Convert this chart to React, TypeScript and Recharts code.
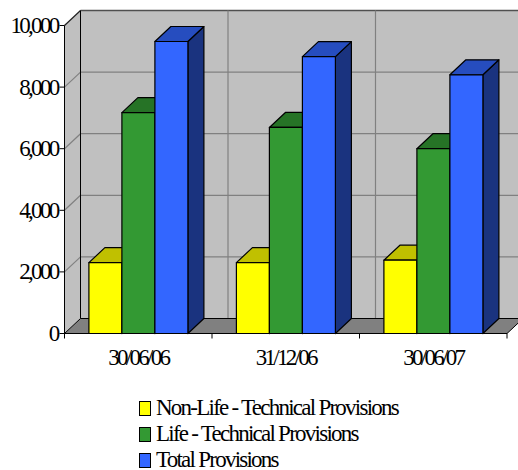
import React from 'react';
import { BarChart, Bar, XAxis, YAxis, Legend, usePlotArea } from 'recharts';

const periods = ['30/06/06', '31/12/06', '30/06/07'];
const nonLife = [2300, 2300, 2380];
const life = [7170, 6690, 6000];
const total = [9480, 8990, 8400];
const yTicks = [0, 2000, 4000, 6000, 8000, 10000];
const yMax = 10000;

const data = periods.map((period, i) => ({
  period,
  nonLife: nonLife[i],
  life: life[i],
  total: total[i],
}));

const seriesInfo = [
  { key: 'nonLife', name: 'Non-Life - Technical Provisions', front: '#ffff00', top: '#c0c000', side: '#9a9a00' },
  { key: 'life', name: 'Life - Technical Provisions', front: '#339933', top: '#267326', side: '#1c5a1c' },
  { key: 'total', name: 'Total Provisions', front: '#3366ff', top: '#264dbf', side: '#1a337f' },
];

// 3D offset of the back wall relative to the front plane
const DEPTH_X = 16;
const DEPTH_Y = 15;
const FONT = '"Liberation Serif", serif';

const Walls = () => {
  const plot = usePlotArea();
  if (!plot) return null;
  const { x, y, width, height } = plot;
  const bottom = y + height;
  const backLeft = x + DEPTH_X;
  const backRight = x + width + DEPTH_X;
  const backTop = y - DEPTH_Y;
  const backBottom = bottom - DEPTH_Y;
  const bandEdges = periods.map((_, i) => x + (i * width) / periods.length);
  bandEdges.push(x + width);

  return (
    <g>
      <rect x={backLeft} y={backTop} width={width} height={height} fill="#c0c0c0" />
      <polygon
        points={`${x},${bottom} ${x},${y} ${backLeft},${backTop} ${backLeft},${backBottom}`}
        fill="#c0c0c0"
      />
      {yTicks.slice(1).map((t) => {
        const ty = bottom - (t / yMax) * height;
        const isTop = t === yMax;
        return (
          <g key={t}>
            <line x1={backLeft} x2={backRight} y1={ty - DEPTH_Y} y2={ty - DEPTH_Y} stroke={isTop ? '#505050' : '#808080'} strokeWidth={isTop ? 1.5 : 1.2} />
            <line x1={x} x2={backLeft} y1={ty} y2={ty - DEPTH_Y} stroke={isTop ? '#202020' : '#808080'} strokeWidth={1.2} />
          </g>
        );
      })}
      {bandEdges.slice(1, -1).map((ex) => (
        <line key={ex} x1={ex + DEPTH_X} x2={ex + DEPTH_X} y1={backTop} y2={backBottom} stroke="#808080" strokeWidth={1.2} />
      ))}
      <polygon
        points={`${x},${bottom} ${backLeft},${backBottom} ${backRight},${backBottom} ${x + width},${bottom}`}
        fill="#808080"
        stroke="#000"
        strokeWidth={1}
      />
      <line x1={backLeft} x2={backLeft} y1={backTop} y2={backBottom} stroke="#000" strokeWidth={1} />
      {bandEdges.map((ex) => (
        <line key={ex} x1={ex} x2={ex} y1={bottom} y2={bottom + 5} stroke="#000" strokeWidth={1} />
      ))}
    </g>
  );
};

const makeBar3D = (front: string, top: string, side: string) => (props: any) => {
  const { x, y, width, height } = props;
  const right = x + width;
  const bottom = y + height;
  return (
    <g stroke="#000" strokeWidth={1.2} strokeLinejoin="round">
      <polygon
        points={`${right},${y} ${right + DEPTH_X},${y - DEPTH_Y} ${right + DEPTH_X},${bottom - DEPTH_Y} ${right},${bottom}`}
        fill={side}
      />
      <polygon
        points={`${x},${y} ${x + DEPTH_X},${y - DEPTH_Y} ${right + DEPTH_X},${y - DEPTH_Y} ${right},${y}`}
        fill={top}
      />
      <rect x={x} y={y} width={width} height={height} fill={front} />
    </g>
  );
};

const YTick = ({ x, y, payload }: any) => (
  <text x={x - 2} y={y} dy="0.33em" textAnchor="end" fontFamily={FONT} fontSize={23} fill="#000" style={{ letterSpacing: -2.7 }}>
    {payload.value.toLocaleString('en-US')}
  </text>
);

const XTick = ({ x, y, payload }: any) => (
  <text x={x} y={y} dy="0.68em" textAnchor="middle" fontFamily={FONT} fontSize={23} fill="#000" style={{ letterSpacing: -2.7 }}>
    {payload.value}
  </text>
);

const LegendBox = () => (
  <div style={{ fontFamily: FONT, fontSize: 23, letterSpacing: -1.75, color: '#000', paddingLeft: 139 }}>
    {seriesInfo.map((s) => (
      <div key={s.key} style={{ display: 'flex', alignItems: 'center', height: 20, lineHeight: '20px', marginBottom: 6 }}>
        <span style={{ width: 10, height: 13, border: '1px solid #000', background: s.front, marginRight: 5, flex: 'none' }} />
        <span>{s.name}</span>
      </div>
    ))}
  </div>
);

export default function App() {
  return (
    <div style={{ position: 'absolute', left: 0, top: 0, width: 518, height: 470, overflow: 'hidden', background: '#fff' }}>
      <BarChart
        width={518}
        height={470}
        data={data}
        margin={{ top: 25.5, right: 11, bottom: 34.5, left: 0 }}
        barCategoryGap={24.4}
        barGap={0}
      >
        <Walls />
        <XAxis
          dataKey="period"
          height={30}
          tickLine={false}
          axisLine={{ stroke: '#000', strokeWidth: 1 }}
          tick={<XTick />}
          tickMargin={10}
        />
        <YAxis
          width={64.5}
          domain={[0, yMax]}
          ticks={yTicks}
          tickLine={{ stroke: '#000' }}
          tickSize={5}
          tickMargin={0}
          axisLine={{ stroke: '#000', strokeWidth: 1 }}
          tick={<YTick />}
          interval={0}
        />
        <Legend content={<LegendBox />} verticalAlign="bottom" wrapperStyle={{ left: 0, top: 398, width: 518, height: 72 }} />
        {seriesInfo.map((s) => (
          <Bar
            key={s.key}
            dataKey={s.key}
            name={s.name}
            fill={s.front}
            isAnimationActive={false}
            shape={makeBar3D(s.front, s.top, s.side)}
          />
        ))}
      </BarChart>
    </div>
  );
}
